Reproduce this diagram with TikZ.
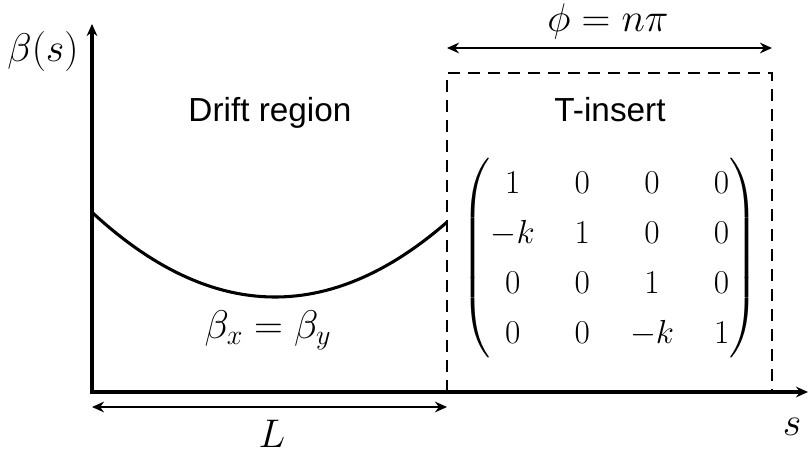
\RequirePackage{fix-cm}
\documentclass[tikz,border=0pt]{standalone}
\usepackage{amsmath}
\usepackage{fontspec}
\newfontfamily\sansfont{Liberation Sans}
\usetikzlibrary{arrows.meta}

\begin{document}
\begin{tikzpicture}[x=0.75pt,y=0.75pt,>={Stealth[length=9pt,width=8pt]},
    axis/.style={line width=2.3pt},
    dim/.style={<->,line width=1.7pt},
    lbl/.style={font=\fontsize{30}{36}\selectfont,inner sep=0pt},
    txt/.style={font=\sansfont\fontsize{25}{30}\selectfont}]
  \useasboundingbox (0,0) rectangle (809,454);
  \coordinate (O) at (92,62);
  \coordinate (ytop) at (92,430);
  \coordinate (xend) at (808,62);
  \draw[<->,axis] (ytop) -- (O) -- (xend);
  \node[lbl] (betas) at (43,402) {$\beta(s)$};
  \node[lbl] (slabel) at (792,27) {$s$};
  \draw[axis,domain=92:447,samples=60]
    plot (\x,{157+82*((\x-275)/180)^2});
  \node[lbl] (betaxy) at (268,124) {$\beta_x=\beta_y$};
  \node[txt] (drift) at (270,341) {Drift region};
  \coordinate (La) at (92,47);
  \coordinate (Lb) at (447,47);
  \draw[dim] (La) -- (Lb);
  \node[lbl] (Llabel) at (272,20) {$L$};
  \coordinate (boxbl) at (447,62);
  \coordinate (boxtl) at (447,381);
  \coordinate (boxtr) at (772,381);
  \coordinate (boxbr) at (772,62);
  \draw[line width=1.9pt,dash pattern=on 9pt off 6pt]
    (boxbl) -- (boxtl) -- (boxtr) -- (boxbr);
  \coordinate (phia) at (447,406);
  \coordinate (phib) at (772,406);
  \draw[dim] (phia) -- (phib);
  \node[lbl] (philabel) at (608,432) {$\phi=n\pi$};
  \node[txt] (tinsert) at (610,344) {T-insert};
  \node (tmat) at (610,196) {\fontsize{25}{30}\selectfont
    $\setlength{\arraycolsep}{15pt}\renewcommand{\arraystretch}{1.25}%
    \begin{pmatrix}
      1 & 0 & 0 & 0\\
      -k & 1 & 0 & 0\\
      0 & 0 & 1 & 0\\
      0 & 0 & -k & 1
    \end{pmatrix}$};
\end{tikzpicture}
\end{document}
